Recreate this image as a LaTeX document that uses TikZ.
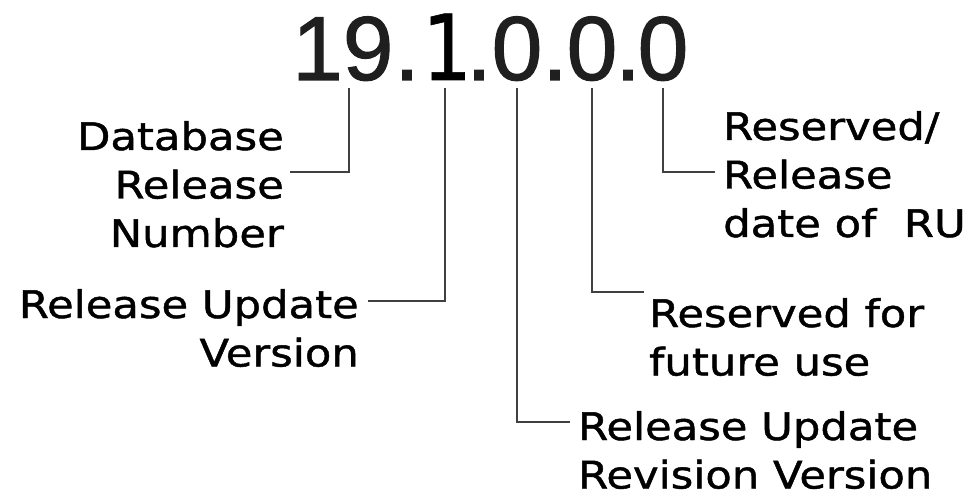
\documentclass[tikz,border=0pt]{standalone}
\usepackage{fontspec}
\newfontfamily\labfont[FakeStretch=1.14,FakeBold=1.2]{DejaVu Sans}
\newfontfamily\numfont[FakeBold=1.2]{Liberation Sans}
\newfontfamily\onefont[FakeStretch=0.85,FakeBold=0.6]{DejaVu Sans}
\newcommand\rlines[1]{\vtop{\baselineskip=48.5pt\halign{\hfil##\cr#1\crcr}}}
\newcommand\llines[1]{\vtop{\baselineskip=48.5pt\halign{##\hfil\cr#1\crcr}}}
\begin{document}
\begin{tikzpicture}[x=1pt,y=-1pt,
  lab/.style={inner sep=0pt, font=\labfont\fontsize{38}{48.5}\selectfont},
  num/.style={inner sep=0pt, anchor=base, text=black!88, font=\numfont\fontsize{91}{100}\selectfont},
  conn/.style={draw=black!75, line width=2.1pt}]
\useasboundingbox (0,0) rectangle (977,494);
% version number
\node[num, anchor=base west] (d1) at (292,80) {19};
\node[num] (p1) at (407,80) {.};
\node[num, text=black, font=\onefont\fontsize{91}{100}\selectfont] (d2) at (447,80) {\makebox[38pt]{1}};
\node[num] (p2) at (479,80) {.};
\node[num] (d3) at (517,80) {0};
\node[num] (p3) at (555,80) {.};
\node[num] (d4) at (592,80) {0};
\node[num] (p4) at (628,80) {.};
\node[num] (d5) at (663,80) {0};
% labels
\node[lab, anchor=base east] (l1) at (284,150) {\rlines{Database\cr Release\cr Number}};
\node[lab, anchor=base east] (l2) at (359,318) {\rlines{Release Update\cr Version}};
\node[lab, anchor=base west] (l3) at (578,440) {\llines{Release Update\cr Revision Version}};
\node[lab, anchor=base west] (l4) at (649,327) {\llines{Reserved for\cr future use}};
\node[lab, anchor=base west] (l5) at (723,140) {\llines{Reserved/\cr Release\cr date of\ \ RU}};
% connector points
\coordinate (t1) at (349,88);  \coordinate (e1) at (290,172);
\coordinate (t2) at (445,88);  \coordinate (e2) at (368,301);
\coordinate (t3) at (517,88);  \coordinate (e3) at (570,422);
\coordinate (t4) at (592,88);  \coordinate (e4) at (644,292);
\coordinate (t5) at (663,88);  \coordinate (e5) at (715,172);
\draw[conn] (t1) |- (e1);
\draw[conn] (t2) |- (e2);
\draw[conn] (t3) |- (e3);
\draw[conn] (t4) |- (e4);
\draw[conn] (t5) |- (e5);
\end{tikzpicture}
\end{document}
